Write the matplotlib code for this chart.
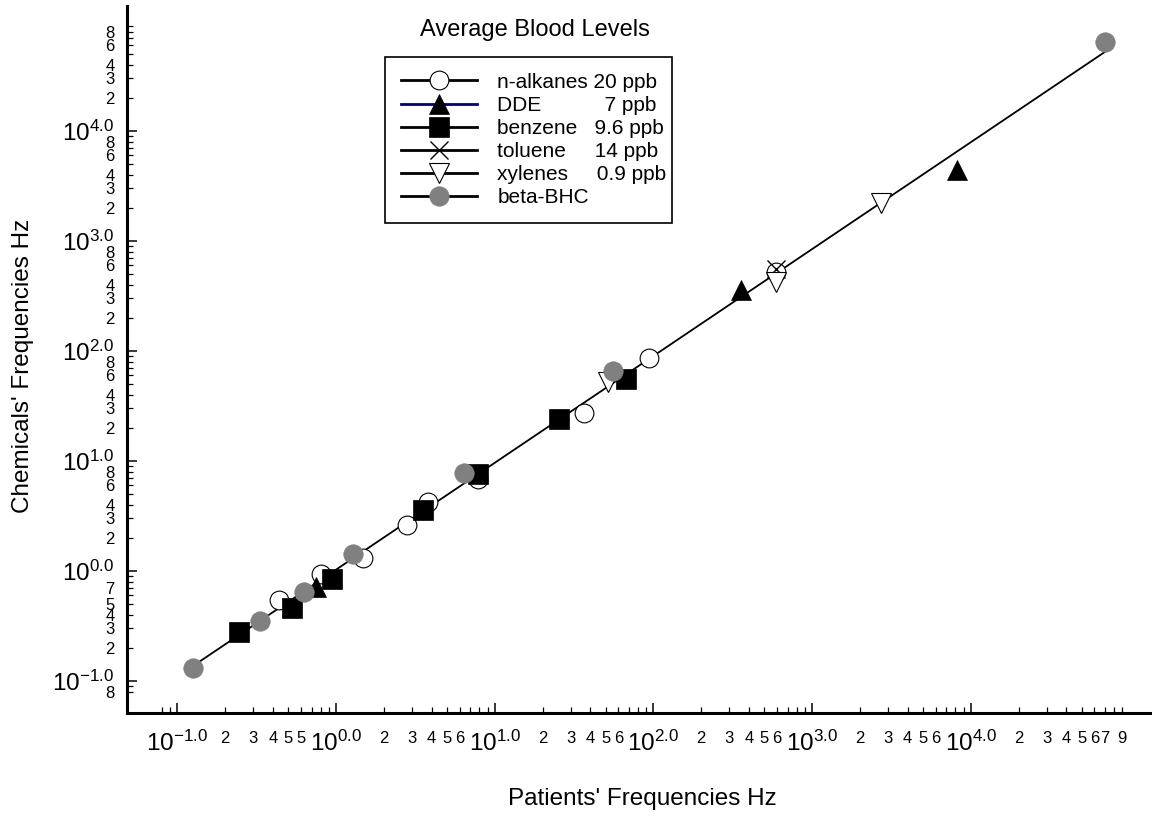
import matplotlib.pyplot as plt
import numpy as np
from matplotlib.lines import Line2D

plt.rcParams['font.family'] = ['Liberation Sans', 'DejaVu Sans']

# data (x = patients' Hz, y = chemicals' Hz)
ALKANES_X = [0.438, 0.799, 1.48, 2.78, 3.77, 7.86, 36.6, 94.0, 591]
ALKANES_Y = [0.545, 0.939, 1.31, 2.62, 4.27, 6.82, 27.1, 86.9, 526]
DDE_X = [0.746, 356, 8150]
DDE_Y = [0.72, 359, 4420]
BENZENE_X = [0.245, 0.524, 0.937, 3.51, 7.86, 25.5, 67.1]
BENZENE_Y = [0.277, 0.458, 0.846, 3.59, 7.57, 23.9, 55.7]
TOLUENE_X = [591]
TOLUENE_Y = [553]
XYLENES_X = [51.9, 591, 2715]
XYLENES_Y = [51.7, 426, 2230]
BHC_X = [0.126, 0.331, 0.627, 1.28, 6.42, 55.3, 70100]
BHC_Y = [0.130, 0.351, 0.640, 1.42, 7.83, 65.8, 64000]

LEGEND_LABELS = ['n-alkanes 20 ppb',
                 'DDE           7 ppb',
                 'benzene   9.6 ppb',
                 'toluene     14 ppb',
                 'xylenes     0.9 ppb',
                 'beta-BHC']

DECADES = [-1, 0, 1, 2, 3, 4]
X_MINOR_LABELS = {0.2: '2', 0.3: '3', 0.4: '4', 0.5: '5', 0.6: '5',
                  2: '2', 3: '3', 4: '4', 5: '5', 6: '6',
                  20: '2', 30: '3', 40: '4', 50: '5', 60: '6',
                  200: '2', 300: '3', 400: '4', 500: '5', 600: '6',
                  2000: '2', 3000: '3', 4000: '4', 5000: '5', 6000: '6',
                  20000: '2', 30000: '3', 40000: '4', 50000: '5', 60000: '6',
                  70000: '7', 90000: '9'}
Y_MINOR_LABELS = {0.08: '8', 0.2: '2', 0.3: '3', 0.4: '4', 0.5: '5', 0.7: '7',
                  2: '2', 3: '3', 4: '4', 6: '6', 8: '8',
                  20: '2', 30: '3', 40: '4', 60: '6', 80: '8',
                  200: '2', 300: '3', 400: '4', 600: '6', 800: '8',
                  2000: '2', 3000: '3', 4000: '4', 6000: '6', 8000: '8',
                  20000: '2', 30000: '3', 40000: '4', 60000: '6', 80000: '8'}

series = [
    (ALKANES_X, ALKANES_Y, dict(marker='o', mfc='white', mec='black', ms=13.5, mew=0.8), 'black'),
    (DDE_X, DDE_Y, dict(marker='^', mfc='black', mec='black', ms=14, mew=0.5), '#000080'),
    (BENZENE_X, BENZENE_Y, dict(marker='s', mfc='black', mec='black', ms=14, mew=0.5), 'black'),
    (TOLUENE_X, TOLUENE_Y, dict(marker='x', mfc='black', mec='black', ms=13, mew=1.0), 'black'),
    (XYLENES_X, XYLENES_Y, dict(marker='v', mfc='white', mec='black', ms=14, mew=0.8), 'black'),
    (BHC_X, BHC_Y, dict(marker='o', mfc='#808080', mec='#808080', ms=14, mew=0.5), 'black'),
]

fig = plt.figure(figsize=(11.52, 8.17), dpi=100)
ax = fig.add_axes([0.1102, 0.1273, 0.8898, 0.8654])
ax.set_xscale('log')
ax.set_yscale('log')

# one log-log regression over all chemicals, markers on top
all_x = np.log10(np.concatenate([s[0] for s in series]))
all_y = np.log10(np.concatenate([s[1] for s in series]))
k, b = np.polyfit(all_x, all_y, 1)
xx = np.array([all_x.min(), all_x.max()])
ax.plot(10 ** xx, 10 ** (k * xx + b), color='black', lw=1.3, zorder=2)
for xs, ys, st, col in series:
    ax.plot(xs, ys, linestyle='none', zorder=3, **st)

ax.set_xlim(10 ** -1.3185, 10 ** 5.142)
ax.set_ylim(10 ** -1.291, 10 ** 5.136)

major = [10.0 ** d for d in DECADES]
major_lbl = [r'$\mathregular{10^{%.1f}}$' % d for d in DECADES]
ax.set_xticks(major, major_lbl)
ax.set_yticks(major, major_lbl)

x_minor = [m * 10.0 ** k for k in range(-2, 5) for m in range(2, 10)
           if 0.075 < m * 10.0 ** k < 95000]
y_minor = list(x_minor)
ax.set_xticks(x_minor, [X_MINOR_LABELS.get(round(v, 3), '') for v in x_minor], minor=True)
ax.set_yticks(y_minor, [Y_MINOR_LABELS.get(round(v, 3), '') for v in y_minor], minor=True)

ax.tick_params(which='major', direction='in', length=7.5, width=1.1, labelsize=17.5)
ax.tick_params(which='minor', direction='in', length=4, width=0.9, labelsize=12)
ax.tick_params(axis='x', which='both', pad=13)
ax.tick_params(axis='y', which='both', pad=9)

for s in ['top', 'right']:
    ax.spines[s].set_visible(False)
for s in ['left', 'bottom']:
    ax.spines[s].set_linewidth(2.2)

fig.text(0.5573, 0.022, "Patients' Frequencies Hz", ha='center', va='center', fontsize=17.5)
fig.text(0.020, 0.552, "Chemicals' Frequencies Hz", ha='center', va='center',
         rotation=90, fontsize=17.5)

handles = [Line2D([], [], color=col, lw=2, **st) for xs, ys, st, col in series]
fig.text(0.464, 0.963, 'Average Blood Levels', ha='center', va='center', fontsize=17)
leg = ax.legend(handles, LEGEND_LABELS, loc='upper left',
                bbox_to_anchor=(0.3342, 0.5, 0.2491, 0.4302),
                bbox_transform=fig.transFigure, mode='expand', borderaxespad=0,
                fontsize=15, handlelength=3.65, handletextpad=1.0,
                labelspacing=0.2, borderpad=0.75, numpoints=1, fancybox=False,
                framealpha=1, edgecolor='black')
leg.get_frame().set_linewidth(1.2)

fig.savefig('out.png', dpi=100)
